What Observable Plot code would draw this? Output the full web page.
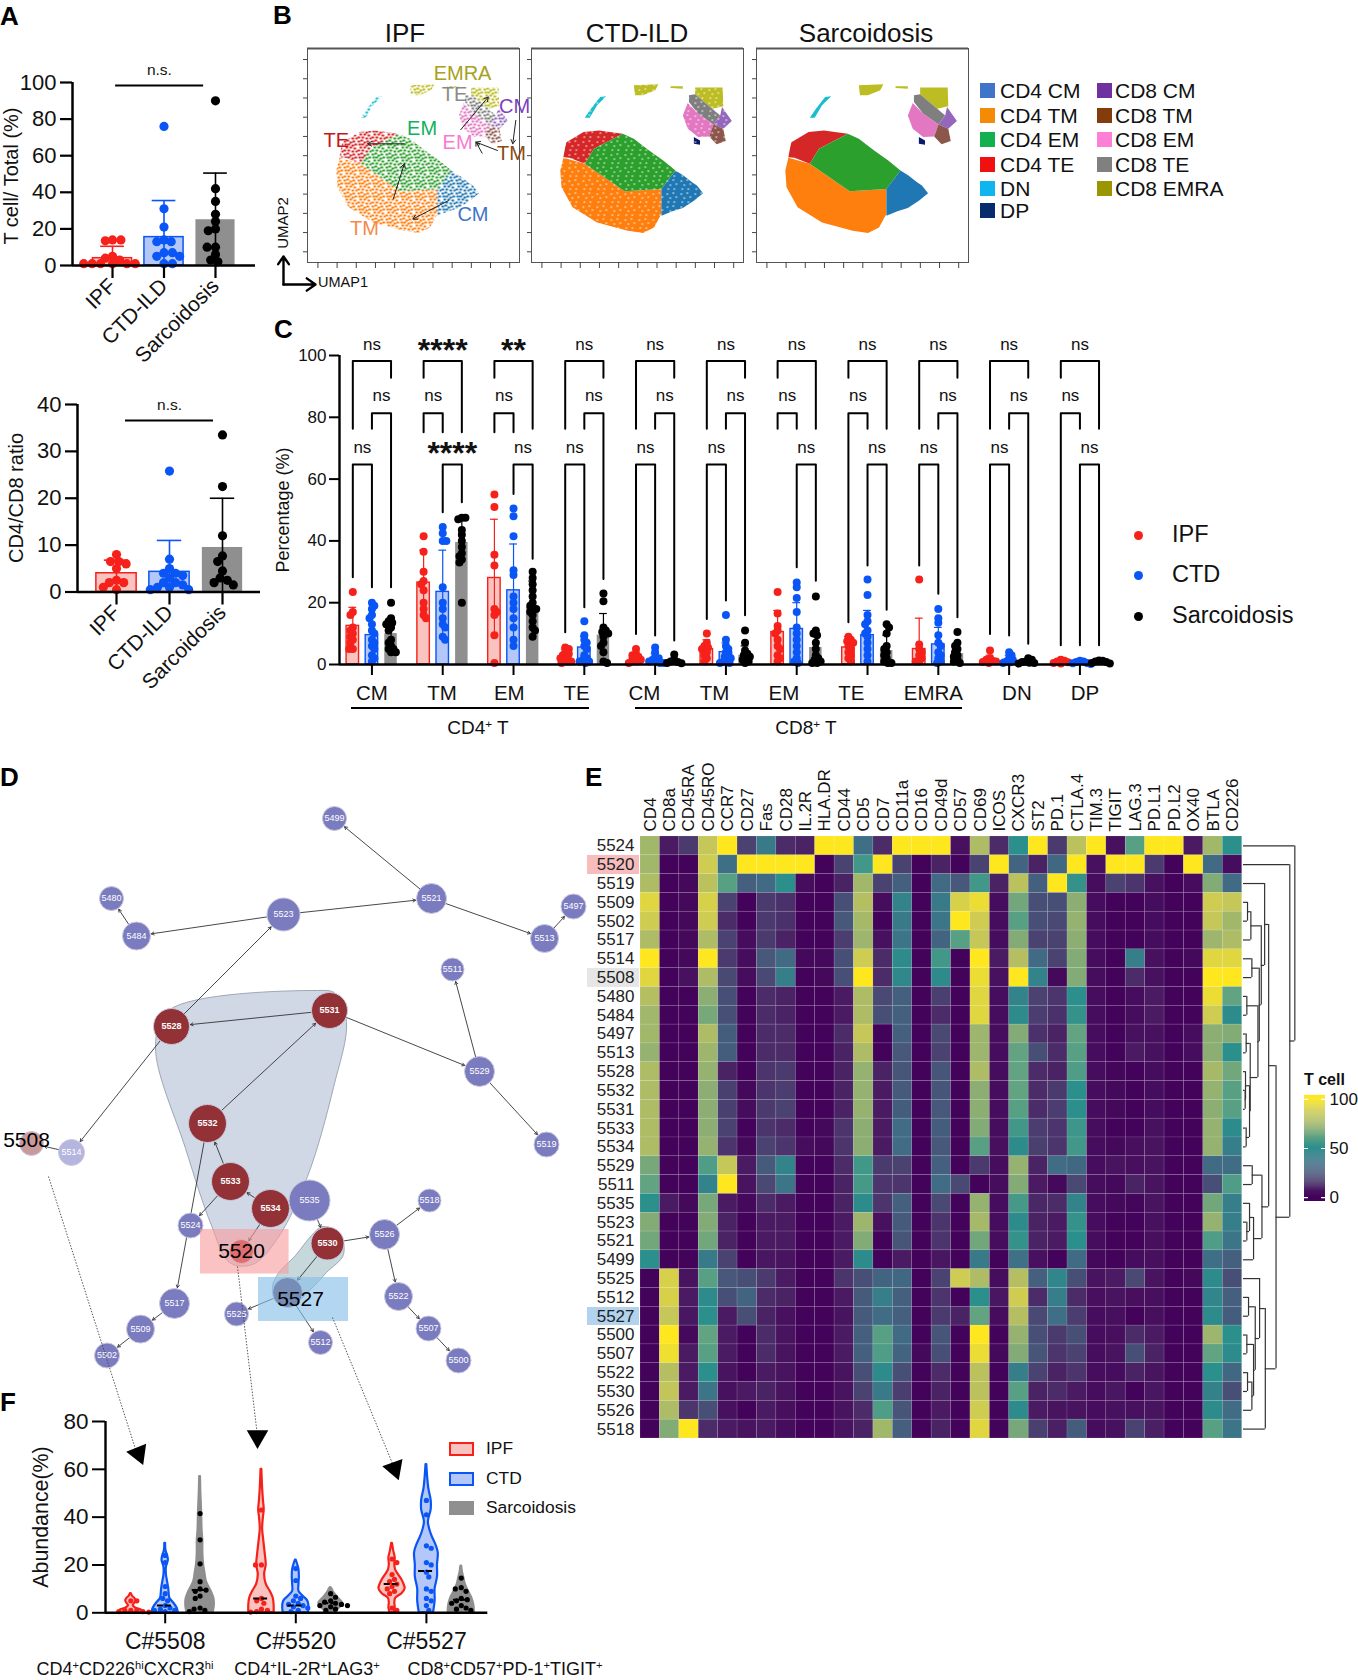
<!DOCTYPE html>
<html><head><meta charset="utf-8">
<script src="https://cdn.jsdelivr.net/npm/d3@7"></script>
<script src="https://cdn.jsdelivr.net/npm/@observablehq/plot@0.6"></script>
<style>
html,body{margin:0;padding:0;background:#fff}
#page{position:relative;width:1358px;height:1680px;overflow:hidden;background:#fff}
#page svg{max-width:none!important;overflow:visible}
</style></head><body><div id="page"></div>
<script>
// ---------- DATA ----------
const seriesNames=["IPF","CTD","Sarcoidosis"];
const aCategories=["IPF","CTD-ILD","Sarcoidosis"];
const tcellIPF=[14,14,13.5,5,4,3,1,1,1,1,1,1];
const tcellCTD=[76,31,21,14,13,13,7,7,5,5,1,1];
const tcellSarc=[90,42,35,28,24,20,19,10,10,6,3,2];
const tcellMean=[4,15.5,25], tcellErr=[10.5,35.5,50.5];
const ratioIPF=[8,6.5,6.5,6,5,2.5,2,2,1,0.5];
const ratioCTD=[25.8,7,5,4,4,3.5,3,2,2,1.5,1,1,0.5,0.5];
const ratioSarc=[33.5,22.5,12,7.7,6.5,4.5,3,2.5,2,1.5];
const ratioMean=[4,4.3,9.5], ratioErr=[6.8,11,20];

const cGroups=["CM","TM","EM","TE","CM","TM","EM","TE","EMRA","DN","DP"];
const cLabelShift=[0,-.01,-.06,-.11,-.15,-.16,-.18,-.23,-.07,.11,.07];
const cIPF=[[23.5,17,16,12,11,10,9,8,7,5,5],[41.5,36.5,30,27,26,24,20,18,16,15],[55,51,35.5,32,18,17,16,9.5,0.5],[5.5,5,4,3.5,3,2.5,2,1.5,1,1,.5],[5,3.5,3,2.5,2,1.5,1,1,.5],[10,7,6,5.5,5,4,3,2,1],[23.5,16.5,12.5,11,10,8,6,5,3,2,1],[9,8,7.5,7,6,5,4,3,2,1],[27.5,6.5,5,4,3,2,1,1],[4.5,2,1.5,1.2,1,.8,.5],[1.5,1.2,1,.7,.5,.3]];
const cCTD=[[20,19,18,16,15,13,11,10,8,7,6,5,3,2,1],[44.5,42.5,40,40,25,20,18,15,13,12,9,8],[50.5,48,41.5,30.5,29,22,20,18,15,12,8,6],[14,9.5,8,7,6,5,3,2,1.5,1,1,.5],[5.5,4,2.5,2,1.5,1,1,.5,.5],[16,8,6,5,4,3,2.5,2,1.5,1,.5,.5],[26.5,25,21.5,17,12,10,8,6,4,2,1,.5],[27.5,22.5,16,14,13,11,10,9,7,5,3,1],[18,15,13.5,9.5,7,6,4,3,2,1,.5],[4,3,2,1.5,1,.7,.5],[1.2,1,.8,.5,.4,.2]];
const cSarc=[[20,15,14,13.5,13,12,11,8,7,6,5,5,4,4],[47.5,47.5,47,43.5,42,40,38,36,35,34,33,20],[30,28,26,24,22,20,19,18,18,17,16,14,12,11,9],[23,20.5,12,11,10.5,10,9,7,6,4,1,.5],[3.2,1.5,1,.8,.5,.4],[11,7,4.5,3.5,3,2.5,2,1.5,1,.5],[22,11,10,9.5,7,5,3,2,1.5,1,.5,.5],[13,12,10,6,5,4,3,2,1,.5,.5],[10.5,7,6,5,4,3,2.5,1.5,1,.5],[2,1.5,1,.8,.6,.5,.3],[1.3,1.2,1,.8,.5,.3]];
const cMeans=[[12.5,9.5,10],[26.5,23.5,39.5],[28,24,18.5],[2.5,5.5,9.5],[2,1.7,.9],[5,4,3],[10.5,11.5,5.5],[5.5,9.5,4.5],[5,6.5,3.5],[1.5,1.5,.9],[.8,.7,.8]];
const cErrs=[[18.5,16,15],[37,37,47],[47,39,27],[5,9,16.5],[3.5,3.5,2],[8,7,6],[17.5,20,11],[9,17.5,9.5],[15,12,7],[3,3,1.5],[1.2,1.1,1.2]];
// brackets: group, (series a, series b,) end of leg a, end of leg b
const bracketsTop=[[0,76.3,92.8],[1,92.8,75.2],[2,92.8,76.3],[3,76.3,92.8],[4,76.3,92.8],[5,76.3,92.8],[6,92.8,76.3],[7,92.8,76.3],[8,76.3,92.8],[9,76.3,92.8],[10,92.8,76.3]];
const bracketsMid=[[0,1,2,76.3,25],[1,0,1,75.2,75.2],[2,0,1,75.2,75.2],[3,1,2,76.3,27.7],[4,1,2,76.3,7.8],[5,1,2,76.3,15.9],[6,0,1,76.3,76.3],[7,0,1,13.7,76.3],[8,1,2,76.3,15.3],[9,1,2,76.3,6.7],[10,0,1,6.2,76.3]];
const bracketsLow=[[0,0,1,28.2,25],[1,1,2,49.3,52.5],[2,1,2,55.2,34.2],[3,0,1,10.4,18.5],[4,0,1,9.9,9.4],[5,0,1,14.7,20.7],[6,1,2,31.5,27.1],[7,1,2,32,17.7],[8,0,1,32,22.9],[9,0,1,9.9,9.4],[10,1,2,6.2,6.2]];
const sigTop=["ns","****","**","ns","ns","ns","ns","ns","ns","ns","ns"];
const sigMid=["ns","ns","ns","ns","ns","ns","ns","ns","ns","ns","ns"];
const sigLow=["ns","****","ns","ns","ns","ns","ns","ns","ns","ns","ns"];

const umapClusters=[
 {name:"CD4 TM",color:"#ff7f0e",poly:[[52,472],[87,490],[152,572],[212,565],[212,640],[200,680],[182,697],[157,690],[107,665],[67,620],[49,560],[47,510]]},
 {name:"CD4 TE",color:"#d62728",poly:[[52,470],[55,440],[57,425],[85,395],[110,390],[149,400],[102,445],[87,490],[62,472]]},
 {name:"CD4 EM",color:"#2ca02c",poly:[[149,400],[102,445],[87,490],[152,572],[212,565],[235,510],[215,480],[192,450],[167,415]]},
 {name:"CD4 CM",color:"#1f77b4",poly:[[235,510],[212,565],[212,645],[230,632],[247,622],[265,600],[280,578],[270,555],[262,545],[248,525]]},
 {name:"DN",color:"#17becf",poly:[[87,352],[97,325],[112,290],[122,288],[107,315],[95,352]]},
 {name:"CD8 EMRA",color:"#bcbd22",poly:[[267,262],[312,262],[313,318],[295,325],[267,282]]},
 {name:"CD8 EMRA",color:"#bcbd22",poly:[[167,255],[207,252],[202,270],[182,285],[169,285]]},
 {name:"CD8 EMRA",color:"#bcbd22",poly:[[227,258],[247,258],[247,265],[227,263]]},
 {name:"CD8 TE",color:"#7f7f7f",poly:[[267,282],[295,325],[308,345],[297,372],[272,340],[257,305],[257,285]]},
 {name:"CD8 EM",color:"#e377c2",poly:[[255,308],[272,340],[297,372],[290,408],[272,410],[255,385],[247,345]]},
 {name:"CD8 CM",color:"#9467bd",poly:[[311,320],[327,362],[313,385],[297,372],[308,345]]},
 {name:"CD8 TM",color:"#8c564b",poly:[[297,372],[313,385],[317,422],[302,431],[290,408]]},
 {name:"DP",color:"#0b1a6b",poly:[[265,410],[275,420],[275,433],[265,430]]}
];
const umapTitles=["IPF","CTD-ILD","Sarcoidosis"];
const umapLabels=[["EMRA",253,219,"#a8a020"],["TE",240,284,"#8a8a8a"],["CM",338,318,"#7d3fc0"],["EM",187,385,"#11b060"],["EM",245,425,"#f87ad0"],["TE",47,420,"#c4161c"],["TM",333,460,"#8a4a12"],["CM",270,642,"#3f74c9"],["TM",93,683,"#f58a4a"]];
const umapArrows=[[158,430,98,430],[140,595,158,490],[230,600,172,655],[250,388,295,290],[340,360,335,430],[310,450,275,425],[285,458,275,425]];
const legendB=[["CD4 CM","#3f74c9"],["CD4 TM","#f58a07"],["CD4 EM","#12b04e"],["CD4 TE","#f01010"],["DN","#0fb5ee"],["DP","#0a2a6e"],["CD8 CM","#7030a0"],["CD8 TM","#843c0c"],["CD8 EM","#ff7fd6"],["CD8 TE","#808080"],["CD8 EMRA","#9a9600"]];

const netNodes=[[5499,334,58,12,0],[5480,111,138,12,0],[5484,136,175.5,14,0],[5523,283,154,16.5,0],[5521,431,138,15,0],[5497,573,146,12.5,0],[5513,544,178,14,0],[5511,452,209,11.5,0],[5528,171,266,18,1],[5531,329,250,18,1],[5529,479,311,15,0],[5519,546,384,12.5,0],[5532,207,363,19,1],[5508,31,383,12,3],[5514,71,392,13,4],[5533,230,421,19,1],[5534,270,448,19,1],[5535,309,440,20.5,0],[5524,190,465,12.5,0],[5518,429,440,11.5,0],[5526,384,474,15,0],[5530,327,483,16.5,1],[5520,241,491,12,2],[5527,287,532,15,5],[5522,398,536,14,0],[5525,236,553.5,12,0],[5517,174,543,15,0],[5509,140,568.6,14,0],[5502,106.5,595,12.5,0],[5512,320,582,12,0],[5507,428,568,12.5,0],[5500,458,600,12.5,0]];
const netEdges=[[5521,5499],[5484,5480],[5523,5484],[5523,5521],[5521,5513],[5513,5497],[5528,5523],[5531,5528],[5532,5531],[5531,5529],[5529,5511],[5529,5519],[5528,5514],[5514,5508],[5533,5532],[5534,5533],[5534,5535],[5533,5524],[5532,5517],[5517,5509],[5509,5502],[5534,5520],[5535,5530],[5530,5526],[5526,5518],[5526,5522],[5522,5507],[5507,5500],[5530,5527],[5527,5512],[5527,5525]];
const hullMain=[[168,250],[314,230],[335,233],[346,261],[333,327],[307,416],[277,478],[252,504],[229,502],[211,465],[185,388],[155,286]];
const hullSmall=[[311,475],[322,466],[339,473],[343,494],[326,512],[309,530],[288,547],[272,530],[277,514],[295,495]];
const netBoxes=[[200,469,288.6,513.5,"#f79c9c"],[258,517,348,561,"#86bfe8"]];
const netLeaders=[[48,416,138,698],[237,506,257,676],[332,557,394,708]];
const netHeads=[[138,693,158],[257,676,180],[394,708,160]];
const netCallouts=[["5508",26,380],["5520",241,491],["5527",300,539]];

const heatCols=["CD4","CD8a","CD45RA","CD45RO","CCR7","CD27","Fas","CD28","IL.2R","HLA.DR","CD44","CD5","CD7","CD11a","CD16","CD49d","CD57","CD69","ICOS","CXCR3","ST2","PD.1","CTLA.4","TIM.3","TIGIT","LAG.3","PD.L1","PD.L2","OX40","BTLA","CD226"];
const heatRows=[
["5524",[75,8,15,85,100,18,40,12,10,100,100,35,12,100,100,100,5,78,12,50,100,15,82,100,5,60,100,100,8,75,50]],
["5520",[75,0,0,88,35,100,100,100,100,0,18,55,100,18,0,10,0,18,100,30,10,32,100,5,100,100,15,0,100,33,3]],
["5519",[78,0,2,82,60,28,33,50,3,0,10,75,18,28,0,33,25,55,10,82,28,100,52,3,18,14,5,0,3,68,33]],
["5509",[92,0,2,90,18,0,15,13,0,0,22,80,3,45,0,40,90,95,3,65,22,22,70,3,0,0,3,0,0,88,85]],
["5502",[88,0,2,88,12,0,15,13,0,0,25,76,0,40,0,38,100,88,3,60,22,20,72,3,0,0,3,0,0,85,75]],
["5517",[78,0,2,78,18,3,15,10,0,0,16,74,5,38,0,30,60,85,3,68,18,18,70,3,0,0,3,0,0,74,78]],
["5514",[100,0,2,100,15,3,25,33,2,2,22,88,12,48,0,55,0,100,8,80,33,18,68,3,0,42,5,0,2,92,92]],
["5508",[92,0,5,78,20,3,20,42,0,2,22,100,12,47,0,48,0,95,5,100,45,2,68,3,0,12,5,0,0,100,100]],
["5480",[80,0,0,70,22,0,12,10,0,0,8,78,20,28,0,17,0,92,3,45,18,14,50,3,0,3,8,0,0,95,62]],
["5484",[75,0,0,66,22,0,12,10,0,0,8,78,22,28,0,12,0,92,3,48,16,13,52,3,0,3,8,0,0,88,48]],
["5497",[75,0,0,78,27,0,12,12,0,0,12,85,0,28,0,20,0,74,3,68,13,10,62,3,0,5,5,0,3,70,68]],
["5513",[72,0,0,74,27,0,12,12,0,0,10,78,0,25,0,18,0,74,3,62,22,12,60,3,0,8,5,0,3,70,50]],
["5528",[78,0,0,72,10,0,14,15,0,0,10,72,10,24,0,24,0,78,3,62,12,10,58,3,1,0,3,0,0,76,65]],
["5532",[78,0,0,70,17,2,14,16,0,0,10,72,8,26,0,24,0,70,3,62,12,15,50,3,2,0,3,0,0,72,60]],
["5531",[78,0,0,70,17,3,15,18,0,0,10,72,8,27,0,25,0,70,3,60,12,16,50,3,2,0,3,0,0,70,60]],
["5533",[78,0,0,70,18,0,14,12,0,2,14,70,8,34,0,27,0,68,3,55,16,14,54,3,0,0,5,0,0,72,48]],
["5534",[78,0,0,72,14,2,18,14,3,2,14,70,8,34,0,25,0,60,4,48,17,14,55,3,2,4,6,0,0,72,42]],
["5529",[66,0,0,58,85,8,26,45,0,0,12,55,15,18,0,28,0,15,3,72,10,34,32,3,6,4,6,0,0,33,34]],
["5511",[62,0,0,45,100,6,20,38,0,0,10,56,14,14,0,34,20,0,3,68,8,2,20,3,2,10,6,0,0,22,58]],
["5535",[50,8,2,66,8,2,12,8,0,0,10,48,14,28,0,20,0,72,3,56,11,12,45,3,2,1,6,0,0,65,42]],
["5523",[68,0,0,68,10,0,8,8,0,0,8,74,5,26,0,14,0,76,3,48,10,8,52,3,0,0,5,0,0,72,42]],
["5521",[65,0,0,65,10,0,8,8,0,0,8,68,0,24,0,14,0,65,3,52,10,8,50,3,0,0,4,0,0,58,38]],
["5499",[50,0,0,40,18,0,7,6,0,0,8,48,0,8,0,7,0,40,0,36,5,0,33,2,0,3,4,0,0,35,28]],
["5525",[0,90,6,60,25,22,15,8,0,0,14,22,30,32,0,18,88,78,3,80,28,46,22,6,8,20,6,0,2,48,22]],
["5512",[0,90,8,48,22,30,12,10,0,0,8,26,42,28,0,14,0,50,7,88,12,42,12,4,6,4,4,0,0,46,28]],
["5527",[0,85,7,50,8,22,10,5,0,0,6,26,34,28,0,15,10,62,3,80,20,35,16,3,4,0,4,0,0,48,27]],
["5500",[0,100,2,62,8,0,12,6,0,0,8,28,60,33,0,24,0,100,0,72,22,15,22,3,4,12,8,0,0,74,50]],
["5507",[0,96,8,60,8,0,12,6,0,0,8,28,58,30,2,22,0,95,2,68,24,14,18,3,6,22,10,0,0,62,48]],
["5522",[0,80,8,50,6,0,8,6,0,0,6,22,48,22,0,12,0,82,0,42,18,10,14,3,3,10,6,0,0,50,32]],
["5530",[0,84,8,38,5,8,10,6,0,0,6,18,40,16,0,10,0,82,0,60,10,12,8,3,7,0,7,0,0,44,22]],
["5526",[0,78,14,22,5,0,8,4,0,0,6,12,58,24,0,8,0,88,0,48,8,6,6,3,5,5,6,0,0,48,34]],
["5518",[0,68,100,12,8,6,8,3,0,0,6,10,75,28,0,10,0,92,0,66,17,9,27,3,5,18,9,0,0,60,38]]
];
const heatRowHighlights={"5520":"#f7bdbd","5508":"#e6e6e6","5527":"#b1d3ee"};
const heatStops=[0,8,15,25,35,50,60,70,78,88,93,100];
const heatColors=["#43035a","#4a1a62","#4b3a6e","#47587a","#3f6f86","#2b8f8c","#58a084","#8cae73","#aebc65","#cfcc52","#e3d93c","#fee71f"];
const dendroTree=[153,"5524",[138,"5520",[97,
 [75,
  [63,"5519",[53,[22,[12,"5509","5502"],"5517"],[47,[25,"5514","5508"],[43,[10,"5480","5484"],[20,[8,"5497","5513"],[18,[6,"5528",[5,"5532","5531"]],[8,"5533","5534"]]]]]]],
  [55,[26,"5529","5511"],[30,[18,"5535",[10,"5523","5521"]],"5499"]]],
 [65,"5518",[48,"5525",[35,[15,"5512","5527"],[30,[10,"5500","5507"],[25,[12,"5522","5530"],"5526"]]]]]]]];

const fClusters=["C#5508","C#5520","C#5527"];
const violins=[
 [0,0,[[0,30],[1,28],[2,12],[3,6],[4,10],[5,13],[6,10],[7,4],[8,1]],[5,5,1,1,1,.5,.5,.3],null],
 [0,1,[[0,33],[1,32],[2,30],[4,22],[6,12],[8,10],[10,9],[13,6],[16,3],[19,3],[22,8],[24,6],[26,2],[29,1]],[24,21,11,8,6,5,3,2,1.5,1,1,.5],3],
 [0,2,[[0,33],[3,36],[6,35],[9,28],[13,16],[17,12],[20,9],[25,7],[30,7],[35,5],[42,4],[50,2],[57,1]],[41.5,30.5,20.5,13,10,9.5,9,7,6,2,1.5,1,.5],9.5],
 [1,0,[[0,32],[3,32],[6,30],[9,22],[12,12],[16,8],[20,12],[24,10],[30,6],[35,3],[40,5],[43,7],[47,5],[52,3],[60,1]],[43,20,20,6,5,4,1.5,1,.5,.3],6],
 [1,1,[[0,32],[3,33],[5,30],[7,18],[9,8],[12,8],[15,9],[18,8],[20,5],[22,1]],[18.5,13.5,7,6,5,4,3.5,3,2.5,2,1,.5],3],
 [1,2,[[0,8],[2,22],[4,30],[6,20],[8,10],[10,3],[10.5,1]],[8,6.5,5,4.5,4,3.5,3,3,2.5,1.5,1],4],
 [2,0,[[0,5],[2,8],[4,7],[6,9],[8,25],[10,33],[12,30],[14,24],[16,16],[18,9],[20,7],[23,8],[26,4],[29,1]],[22.5,21,16,14,13,12,11,10,9,8,2,1],12],
 [2,1,[[0,18],[5,22],[10,22],[15,28],[20,28],[25,30],[28,25],[33,12],[38,5],[43,12],[47,12],[52,6],[57,3],[62,1]],[47,41,28,27,21,20,17,15,10,9,6,5,3,1],17.5],
 [2,2,[[0,33],[3,32],[6,27],[9,18],[12,10],[15,6],[17,3],[19.5,1]],[14.5,10.5,10,9,6,5.5,5,4,3,2,1.5,1],5.5]
];

// ---------- STYLE / HELPERS ----------
const FONT="'Liberation Sans',Arial,sans-serif";
const stroke3=["#f5211a","#0a55f5","#000"];
const fill3=["#f9c3bf","#b3c8f9","#8f8f8f"];
const barStroke=["#f5211a","#0a55f5","none"];
const page=document.getElementById("page");
function lab(html,x,y,o={}){
  const {size=16,weight="normal",color="#111",rot=0,anchor=50}=o;
  const d=document.createElement("div");
  d.innerHTML=html;
  d.style.cssText=`position:absolute;left:${x}px;top:${y}px;white-space:nowrap;font:${weight} ${size}px/1 ${FONT};color:${color};transform:translate(${-anchor}%,-50%) rotate(${rot}deg)`;
  page.appendChild(d);return d;
}
function box(x,y,w,h,bg,extra=""){
  const d=document.createElement("div");
  d.style.cssText=`position:absolute;left:${x}px;top:${y}px;width:${w}px;height:${h}px;background:${bg};box-sizing:border-box;${extra}`;
  page.appendChild(d);return d;
}
function panel(b,pad,opts){
  const [mt,mr,mb,ml]=pad;
  const svg=Plot.plot({width:b.r-b.l+ml+mr,height:b.b-b.t+mt+mb,marginTop:mt,marginRight:mr,marginBottom:mb,marginLeft:ml,
    style:{fontFamily:FONT,background:"transparent",overflow:"visible",color:"#111"},...opts});
  svg.style.position="absolute";svg.style.left=(b.l-ml)+"px";svg.style.top=(b.t-mt)+"px";
  page.appendChild(svg);return svg;
}
function swarm(vals,pxY,pxX,rc){
  const placed=[];
  return vals.map(v=>{
    let off=0;
    for(let k=0;k<60;k++){
      const c=(k%2?1:-1)*Math.ceil(k/2)*1.2*(placed.length%2?1:-1);
      if(placed.every(p=>Math.hypot(p[0]-c,(p[1]-v)*pxY)>=rc*2)){off=c;break;}
    }
    placed.push([off,v]);
    return {v,off:off/pxX};
  });
}

// ---------- PANEL A ----------
function panelA(b,pxX,xDomain,yMax,yTicks,groups,means,errs,nsLine,nsText){
  const pxY=(b.b-b.t)/yMax;
  const pts=groups.flatMap((g,i)=>swarm(g,pxY,pxX,3.6).map(p=>({x:i+p.off,v:p.v,i})));
  const st=means.map((m,i)=>({i,m,e:errs[i],lo:Math.max(0,2*m-errs[i])}));
  panel(b,[30,6,115,60],{
    x:{type:"linear",domain:xDomain},y:{domain:[0,yMax]},
    marks:[
      Plot.rect(st,{x1:d=>d.i-.38,x2:d=>d.i+.38,y1:0,y2:"m",fill:d=>fill3[d.i],stroke:d=>barStroke[d.i],strokeWidth:1.5}),
      Plot.ruleX(st,{x:"i",y1:"lo",y2:"e",stroke:d=>stroke3[d.i],strokeWidth:1.6}),
      Plot.ruleY(st,{y:"e",x1:d=>d.i-.23,x2:d=>d.i+.23,stroke:d=>stroke3[d.i],strokeWidth:1.6}),
      Plot.dot(pts,{x:"x",y:"v",r:4.6,fill:d=>stroke3[d.i]}),
      Plot.ruleX([xDomain[0]],{y1:0,y2:yMax,strokeWidth:2.5,stroke:"#000"}),
      Plot.ruleY([0],{strokeWidth:2.5,stroke:"#000"}),
      Plot.axisY({ticks:yTicks,tickSize:12,tickPadding:4,fontSize:22,strokeWidth:2.2,label:null,stroke:"#000"}),
      Plot.axisX({ticks:[0,1,2],tickFormat:i=>aCategories[i],tickSize:13,tickPadding:4,tickRotate:-45,fontSize:21,strokeWidth:2.2,label:null,stroke:"#000"}),
      Plot.ruleY([nsLine[0]],{x1:nsLine[1],x2:nsLine[2],strokeWidth:2,stroke:"#000"}),
      Plot.text(["n.s."],{x:nsText[0],y:nsText[1],fontSize:15.5})
    ]});
}
panelA({l:72,r:255,t:82,b:265},51.5,[-.777,2.777],100,[0,20,40,60,80,100],[tcellIPF,tcellCTD,tcellSarc],tcellMean,tcellErr,[98.4,.06,1.77],[.91,107]);
panelA({l:77,r:260,t:404,b:591.5},53,[-.736,2.717],40,[0,10,20,30,40],[ratioIPF,ratioCTD,ratioSarc],ratioMean,ratioErr,[36.6,.17,1.83],[1,39.8]);
lab("T cell/ Total (%)",11,176,{size:20,rot:-90});
lab("CD4/CD8 ratio",16,498,{size:20,rot:-90});

// ---------- PANEL B ----------
const ns="http://www.w3.org/2000/svg";
const defsHost=document.createElementNS(ns,"svg");
defsHost.setAttribute("width",0);defsHost.setAttribute("height",0);defsHost.style.position="absolute";
const defs=document.createElementNS(ns,"defs");defsHost.appendChild(defs);page.appendChild(defsHost);
const speckSparse=[[0,1],[3,0],[6,2],[9,1],[1,4],[4,4],[8,5],[11,4],[2,7],[6,7],[10,8],[0,10],[4,10],[8,11],[12,11]];
const speckWhite=[[1,2],[7,1],[4,6],[10,5],[2,10],[8,10]];
function pattern(id,color,solidBg,specks,w,h,fg){
  const p=document.createElementNS(ns,"pattern");
  p.setAttribute("id",id);p.setAttribute("width",14);p.setAttribute("height",13);p.setAttribute("patternUnits","userSpaceOnUse");
  if(solidBg){const r=document.createElementNS(ns,"rect");r.setAttribute("width",14);r.setAttribute("height",13);r.setAttribute("fill",color);p.appendChild(r);}
  specks.forEach(s=>{const r=document.createElementNS(ns,"rect");r.setAttribute("x",s[0]);r.setAttribute("y",s[1]);r.setAttribute("width",w);r.setAttribute("height",h);r.setAttribute("fill",fg||color);p.appendChild(r);});
  defs.appendChild(p);
}
umapClusters.forEach((c,i)=>{pattern("ipf"+i,c.color,false,speckSparse,2.7,2,null);pattern("ctd"+i,c.color,true,speckWhite,1.6,1.1,"#fff");});
const umapFrames=[[307,519],[531,743],[756,968]];
const tickX=d3.range(11).map(i=>17+31.3*i),tickY=d3.range(11).map(i=>178+57.5*i);
umapFrames.forEach(([l,r],k)=>{
  const cl=k===0?umapClusters.filter(c=>c.name!=="DP"):umapClusters;
  const marks=[
    ...cl.map((c)=>Plot.line(c.poly,{x:d=>d[0],y:d=>d[1],curve:"linear-closed",stroke:"none",
      fill:k===2?c.color:`url(#${k===0?"ipf":"ctd"}${umapClusters.indexOf(c)})`})),
    Plot.frame({stroke:"#555",strokeWidth:1}),
    Plot.ruleY([145],{stroke:"#555",strokeWidth:1.8}),
    Plot.axisX({ticks:tickX,tickFormat:()=>"",tickSize:6,stroke:"#444",label:null}),
    Plot.axisY({ticks:tickY,tickFormat:()=>"",tickSize:4,stroke:"#444",label:null})
  ];
  if(k===0){
    marks.push(Plot.arrow(umapArrows,{x1:d=>d[0],y1:d=>d[1],x2:d=>d[2],y2:d=>d[3],bend:0,stroke:"#222",strokeWidth:1,headLength:7}));
    marks.push(Plot.text(umapLabels,{x:d=>d[1],y:d=>d[2],text:d=>d[0],fill:d=>d[3],fontSize:20}));
  }
  panel({l,r,t:48,b:262},[0,1,10,6],{x:{type:"linear",domain:[0,346]},y:{domain:[145,785],reverse:true},marks});
  lab(umapTitles[k],[405,637,866][k],33,{size:26});
});
lab("UMAP2",282,223,{size:15,rot:-90});
lab("UMAP1",318,282,{size:14.5,anchor:0});
(function(){ // axis glyph
  const svg=Plot.plot({width:40,height:36,margin:0,x:{domain:[0,40],range:[0,40],axis:null},y:{domain:[0,36],range:[0,36],axis:null},style:{background:"transparent"},
    marks:[Plot.arrow([[5,29,5,1],[5,29,37,29]],{x1:d=>d[0],y1:d=>d[1],x2:d=>d[2],y2:d=>d[3],bend:0,stroke:"#000",strokeWidth:2.4,headLength:12,headAngle:70})]});
  svg.style.cssText+=";position:absolute;left:278px;top:255px";page.appendChild(svg);
})();
legendB.forEach(([t,c],i)=>{
  const col=i<6?0:1,row=i<6?i:i-6;
  const y=[90,115,139,164,188,210][row];
  box(col?1097:980,y-7.5,15,15,c);
  lab(t,col?1115:1000,y,{size:21,anchor:0});
});

// ---------- PANEL C ----------
const cb={l:339,r:1111,t:355,b:664};
const cOff=[-.27,0,.27];
const cPxX=70.8,cPxY=3.09;
const cArrs=[cIPF,cCTD,cSarc];
const cBars=[],cPts=[];
cGroups.forEach((g,i)=>{[0,1,2].forEach(s=>{
  const m=cMeans[i][s],e=cErrs[i][s];
  cBars.push({i,s,c:i+cOff[s],m,e,lo:Math.max(0,2*m-e)});
  swarm(cArrs[s][i],cPxY,cPxX,1.7).forEach(p=>cPts.push({x:i+cOff[s]+p.off,v:p.v,s}));
});});
function bracket(id,g,a,b,top,l1,l2){const xa=g+cOff[a],xb=g+cOff[b];return [[xa,l1,id],[xa,top,id],[xb,top,id],[xb,l2,id]];}
const brTop=bracketsTop.map((d,i)=>bracket("t"+i,d[0],0,2,98.2,d[1],d[2]));
const brMid=bracketsMid.map((d,i)=>bracket("m"+i,d[0],d[1],d[2],81.3,d[3],d[4]));
const brLow=bracketsLow.map((d,i)=>bracket("l"+i,d[0],d[1],d[2],64.7,d[3],d[4]));
const brackets=[...brTop,...brMid,...brLow].flat();
const sigText=[
 ...bracketsTop.map((d,i)=>({x:d[0],y:103.4,t:sigTop[i]})),
 ...bracketsMid.map((d,i)=>({x:d[0]+(cOff[d[1]]+cOff[d[2]])/2,y:86.9,t:sigMid[i]})),
 ...bracketsLow.map((d,i)=>({x:d[0]+(cOff[d[1]]+cOff[d[2]])/2,y:70.2,t:sigLow[i]}))];
panel(cb,[40,10,75,50],{
  x:{type:"linear",domain:[-.458,10.446]},y:{domain:[0,100]},
  marks:[
    Plot.rect(cBars,{x1:d=>d.c-.088,x2:d=>d.c+.088,y1:0,y2:"m",fill:d=>fill3[d.s],stroke:d=>barStroke[d.s],strokeWidth:1.4}),
    Plot.ruleX(cBars,{x:"c",y1:"lo",y2:"e",stroke:d=>stroke3[d.s],strokeWidth:1.2}),
    Plot.ruleY(cBars,{y:"e",x1:d=>d.c-.055,x2:d=>d.c+.055,stroke:d=>stroke3[d.s],strokeWidth:1.2}),
    Plot.dot(cPts,{x:"x",y:"v",r:4,fill:d=>stroke3[d.s]}),
    Plot.line(brackets,{x:d=>d[0],y:d=>d[1],z:d=>d[2],stroke:"#000",strokeWidth:2,curve:"linear"}),
    Plot.text(sigText.filter(d=>d.t==="ns"),{x:"x",y:"y",text:"t",fontSize:17}),
    Plot.text(sigText.filter(d=>d.t!=="ns"),{x:"x",y:"y",text:"t",fontSize:32,fontWeight:"bold",dy:6}),
    Plot.ruleX([-.458],{y1:0,y2:100,strokeWidth:2.4,stroke:"#000"}),
    Plot.ruleY([0],{strokeWidth:2.4,stroke:"#000"}),
    Plot.axisY({ticks:[0,20,40,60,80,100],tickSize:10,tickPadding:3,fontSize:17,strokeWidth:2,label:null,stroke:"#000"}),
    Plot.axisX({ticks:d3.range(11),tickFormat:()=>"",tickSize:11,strokeWidth:2,label:null,stroke:"#000"}),
    Plot.text(cGroups,{x:(d,i)=>i+cLabelShift[i],y:()=>0,text:d=>d,dy:29,fontSize:20.5}),
  ]});
lab("Percentage (%)",283,510,{size:18,rot:-90});
box(351,707,238,2.4,"#000");box(635,707,327,2.4,"#000");
const SUP=t=>`<span style="font-size:.62em;vertical-align:.5em;line-height:0">${t}</span>`;
lab(`CD4${SUP("+")} T`,478,727,{size:19});
lab(`CD8${SUP("+")} T`,806,727,{size:19});
seriesNames.forEach((t,i)=>{
  const y=[535,575,616][i];
  box(1133.5,y-4.5,9,9,stroke3[i],"border-radius:50%");
  lab(t,1172,y,{size:23.5,anchor:0});
});

// ---------- PANEL D ----------
const nodeById=new Map(netNodes.map(d=>[d[0],d]));
const nodeFill=["#7b7bbf","#923236","#b82228","#c99a9c","#b5b5df","#5c4068"];
const edgeData=netEdges.map(([a,b])=>{
  const A=nodeById.get(a),B=nodeById.get(b);
  const dx=B[1]-A[1],dy=B[2]-A[2],L=Math.hypot(dx,dy);
  return {x1:A[1],y1:A[2],x2:B[1]-dx*(B[3]+1)/L,y2:B[2]-dy*(B[3]+1)/L};
});
panel({l:0,r:580,t:760,b:1490},[0,0,0,0],{
  x:{domain:[0,580],range:[0,580],axis:null},y:{domain:[0,730],range:[0,730],axis:null},
  r:{type:"linear",domain:[0,25],range:[0,25]},
  marks:[
    Plot.line(hullMain,{x:d=>d[0],y:d=>d[1],curve:"catmull-rom-closed",fill:"#d0d8e6",stroke:"#8d96a8",strokeWidth:.8}),
    Plot.line(hullSmall,{x:d=>d[0],y:d=>d[1],curve:"catmull-rom-closed",fill:"#c7d8dc",stroke:"#8d96a8",strokeWidth:.8}),
    Plot.arrow(edgeData,{x1:"x1",y1:"y1",x2:"x2",y2:"y2",bend:0,stroke:"#333",strokeWidth:.9,headLength:5}),
    Plot.dot(netNodes,{x:d=>d[1],y:d=>d[2],r:d=>d[3],fill:d=>nodeFill[d[4]],stroke:"#c9c9de",strokeWidth:1}),
    Plot.text(netNodes.filter(d=>d[4]===0||d[4]===4),{x:d=>d[1],y:d=>d[2],text:d=>String(d[0]),fill:"#fff",fontSize:9}),
    Plot.text(netNodes.filter(d=>d[4]===1),{x:d=>d[1],y:d=>d[2],text:d=>String(d[0]),fill:"#fff",fontWeight:"bold",fontSize:9}),
    Plot.rect(netBoxes,{x1:d=>d[0],y1:d=>d[1],x2:d=>d[2],y2:d=>d[3],fill:d=>d[4],fillOpacity:.62}),
    Plot.text(netCallouts,{x:d=>d[1],y:d=>d[2],text:d=>d[0],fontSize:21,fill:"#000"}),
    Plot.link(netLeaders,{x1:d=>d[0],y1:d=>d[1],x2:d=>d[2],y2:d=>d[3],stroke:"#444",strokeWidth:.9,strokeDasharray:"1.5,1.5"}),
    Plot.dot(netHeads,{x:d=>d[0],y:d=>d[1],rotate:d=>d[2],symbol:"triangle",r:8,fill:"#000"})
  ]});

// ---------- PANEL E ----------
const heatCells=heatRows.flatMap(([r,vals])=>vals.map((v,j)=>({row:r,col:heatCols[j],v})));
const heatColor={type:"linear",domain:heatStops,range:heatColors,interpolate:"rgb"};
const hb={l:640.3,r:1242,t:836.3,b:1438.3};
heatRows.forEach(([r],i)=>{ if(heatRowHighlights[r]) box(587,hb.t+i*18.81,51.5,18.81,heatRowHighlights[r]); });
panel(hb,[95,2,2,50],{
  x:{domain:heatCols,padding:0,round:false},y:{domain:heatRows.map(d=>d[0]),padding:0,round:false},color:heatColor,
  marks:[
    Plot.cell(heatCells,{x:"col",y:"row",fill:"v",stroke:"#fff",strokeOpacity:.18,strokeWidth:.6}),
    Plot.axisX({anchor:"top",tickSize:0,tickPadding:5,tickRotate:-90,fontSize:17,label:null}),
    Plot.axisY({tickSize:0,tickPadding:6,fontSize:17,label:null,fill:"#222"})
  ]});
// dendrogram built from the merge tree
const dendH=[],dendV=[];
function walk(n){
  if(typeof n==="string") return {y:heatRows.findIndex(d=>d[0]===n)+.5,d:0};
  const a=walk(n[1]),b=walk(n[2]);
  dendH.push({y:a.y,x1:a.d,x2:n[0]},{y:b.y,x1:b.d,x2:n[0]});
  dendV.push({x:n[0],y1:a.y,y2:b.y});
  return {y:(a.y+b.y)/2,d:n[0]};
}
walk(dendroTree);
panel({l:1243,r:1295,t:836.3,b:1438.3},[0,2,0,0],{
  x:{type:"linear",domain:[0,155],axis:null},y:{domain:[0,32],reverse:true,axis:null},
  marks:[Plot.ruleY(dendH,{y:"y",x1:"x1",x2:"x2",stroke:"#333",strokeWidth:1.2}),Plot.ruleX(dendV,{x:"x",y1:"y1",y2:"y2",stroke:"#333",strokeWidth:1.2})]});
// colour bar
lab("T cell",1304,1080,{size:16,weight:"bold",anchor:0});
panel({l:1304,r:1325,t:1095,b:1201},[0,30,0,0],{
  x:{domain:[0,1],axis:null},y:{domain:[-4,104]},color:heatColor,
  marks:[
    Plot.rect(d3.range(-4,104),{x1:0,x2:1,y1:d=>d,y2:d=>d+1.2,fill:d=>Math.min(100,Math.max(0,d))}),
    Plot.ruleY([0,50,100],{stroke:"#fff",strokeWidth:1.2,strokeDasharray:"4,13,4"}),
    Plot.axisY({anchor:"right",ticks:[0,50,100],tickSize:0,tickPadding:4,fontSize:17,label:null})
  ]});

// ---------- PANEL F ----------
const fUnit=130.6,fSeries=[-.263,0,.267];
const fb={l:104.7,r:487,t:1421,b:1612.3};
const fAreas=[],fDots=[],fMed=[];
violins.forEach((d,k)=>{
  const c=d[0]+fSeries[d[1]];
  d[2].forEach(([v,w])=>fAreas.push({k,v,s:d[1],x1:c-w/330,x2:c+w/330}));
  swarm(d[3],(fb.b-fb.t)/80,fUnit,2.6).forEach(p=>fDots.push({x:c+p.off,v:p.v,s:d[1]}));
  if(d[4]!=null) fMed.push({v:d[4],x1:c-.06,x2:c+.06});
});
panel(fb,[0,6,50,60],{
  x:{type:"linear",domain:[-.457,2.47]},y:{domain:[0,80]},
  marks:[
    Plot.areaX(fAreas,{y:"v",x1:"x1",x2:"x2",z:"k",curve:"catmull-rom",fill:d=>fill3[d.s],stroke:d=>d.s===2?"#8f8f8f":stroke3[d.s],strokeWidth:2.2}),
    Plot.dot(fDots,{x:"x",y:"v",r:2.6,fill:d=>stroke3[d.s]}),
    Plot.ruleY(fMed,{y:"v",x1:"x1",x2:"x2",stroke:"#000",strokeWidth:2,strokeDasharray:"6,2"}),
    Plot.ruleX([-.457],{y1:0,y2:80,strokeWidth:2.4,stroke:"#000"}),
    Plot.ruleY([0],{strokeWidth:2.4,stroke:"#000"}),
    Plot.axisY({ticks:[0,20,40,60,80],tickSize:13,tickPadding:4,fontSize:22.5,strokeWidth:2,label:null,stroke:"#000"}),
    Plot.axisX({ticks:[0,1,2],tickFormat:i=>fClusters[i],tickSize:11,tickPadding:9,fontSize:23,strokeWidth:2,label:null,stroke:"#000"})
  ]});
lab("Abundance(%)",41.5,1517,{size:21.4,rot:-90});
const S=t=>`<span style="font-size:.62em;vertical-align:.55em;line-height:0">${t}</span>`;
lab(`CD4${S("+")}CD226${S("hi")}CXCR3${S("hi")}`,125,1669,{size:18});
lab(`CD4${S("+")}IL-2R${S("+")}LAG3${S("+")}`,307,1669,{size:18});
lab(`CD8${S("+")}CD57${S("+")}PD-1${S("+")}TIGIT${S("+")}`,505,1669,{size:18});
seriesNames.forEach((t,i)=>{
  const y=[1449,1479,1508][i];
  box(449,y-7,24.5,14,fill3[i],i<2?`border:2px solid ${stroke3[i]}`:"");
  lab(t,486,y,{size:17.4,anchor:0});
});

// ---------- PANEL LETTERS ----------
[["A",0,16],["B",273,15],["C",274,329],["D",0,777],["E",585,777],["F",0,1402]].forEach(([t,x,y])=>lab(t,x,y,{size:26,weight:"bold",anchor:0,color:"#000"}));
</script></body></html>
